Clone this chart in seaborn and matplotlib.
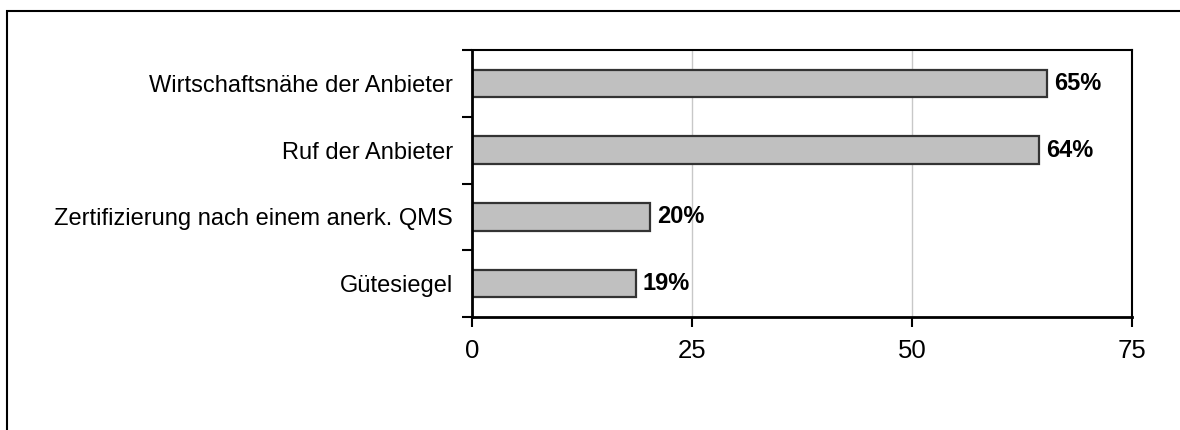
import numpy as np
import matplotlib
matplotlib.use("Agg")
import matplotlib.pyplot as plt
import seaborn as sns
from matplotlib.patches import Rectangle

# Data
categories = ['Wirtschaftsnähe der Anbieter', 'Ruf der Anbieter',
              'Zertifizierung nach einem anerk. QMS', 'Gütesiegel']
values = [65.3, 64.4, 20.2, 18.6]
x_ticks = [0, 25, 50, 75]

sns.set_style("white", {'xtick.bottom': True, 'ytick.left': True,
                        'text.color': 'black', 'xtick.color': 'black',
                        'ytick.color': 'black', 'axes.labelcolor': 'black'})
plt.rcParams['font.family'] = ['Liberation Sans', 'DejaVu Sans']

fig = plt.figure(figsize=(11.8, 4.3), dpi=100)
ax = fig.add_axes([472 / 1180, 1 - 317 / 430, 660 / 1180, 267 / 430])

sns.barplot(x=values, y=categories, orient='h', color='#c0c0c0',
            edgecolor='#333333', linewidth=1.6, width=0.41, saturation=1, ax=ax)

ax.set_xlim(0, 75)
ax.set_ylim(3.5, -0.5)
ax.set_xticks(x_ticks)
ax.set_xticklabels([str(t) for t in x_ticks])
ax.set_xlabel('')
ax.set_ylabel('')

# vertical gridlines
ax.grid(axis='x', color='#c8c8c8', linewidth=1)
ax.grid(axis='y', visible=False)
ax.set_axisbelow(True)

# category-boundary tick marks on y axis
ax.set_yticks(np.arange(-0.5, 4, 1), minor=True)
ax.tick_params(axis='y', which='major', left=False, length=0, pad=13.5,
               labelsize=17, labelcolor='black')
ax.tick_params(axis='y', which='minor', left=True, length=7, width=1.5,
               direction='out', color='black')
ax.tick_params(axis='x', which='major', bottom=True, length=7, width=1.5,
               direction='out', color='black', pad=9, labelsize=18.5,
               labelcolor='black')

for side in ['left', 'bottom']:
    ax.spines[side].set_linewidth(2)
    ax.spines[side].set_color('black')
for side in ['top', 'right']:
    ax.spines[side].set_linewidth(1.5)
    ax.spines[side].set_color('black')
    ax.spines[side].set_visible(True)

# value labels
for i, v in enumerate(values):
    ax.text(v + 0.8, i, f"{v:.0f}%", va='center', ha='left',
            fontsize=17, fontweight='bold', color='black')

# outer frame
fig.patches.append(Rectangle((7 / 1180, -0.2), 1.5, 1 - 11 / 430 + 0.2,
                             transform=fig.transFigure, fill=False,
                             edgecolor='black', linewidth=1.5))

fig.savefig("out.png", dpi=100)
